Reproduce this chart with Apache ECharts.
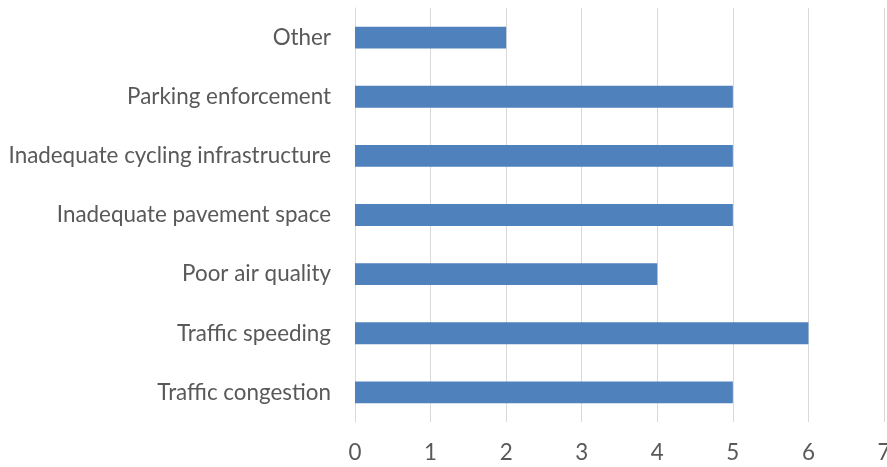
<!DOCTYPE html>
<html><head><meta charset="utf-8">
<script src="https://cdn.jsdelivr.net/npm/echarts@6/dist/echarts.min.js"></script>
<style>html,body{margin:0;padding:0;background:#fff}#c{width:887px;height:467px}</style>
</head><body><div id="c"></div>
<script>
const categories = ["Traffic congestion","Traffic speeding","Poor air quality","Inadequate pavement space","Inadequate cycling infrastructure","Parking enforcement","Other"];
const values = [5,6,4,5,5,5,2];
const xTicks = [0,1,2,3,4,5,6,7];
const chart = echarts.init(document.getElementById('c'));
chart.setOption({
  animation:false,
  grid:{left:355,right:3,top:8,bottom:45,containLabel:false,outerBoundsMode:'none'},
  xAxis:{type:'value',min:0,max:7,interval:1,
    axisLine:{show:false},axisTick:{show:false},
    splitLine:{lineStyle:{color:'#d9d9d9',width:1}},
    axisLabel:{color:'#595959',fontFamily:'Lato',fontSize:22.4,margin:20,hideOverlap:false,
      formatter:v=>xTicks.includes(v)?String(v):''}},
  yAxis:{type:'category',data:categories,
    axisLine:{lineStyle:{color:'#d9d9d9'}},axisTick:{show:false},
    axisLabel:{color:'#595959',fontFamily:'Lato',fontSize:22.4,margin:24}},
  series:[{type:'bar',data:values,barWidth:'37%',itemStyle:{color:'#4f81bd'}}]
});
</script></body></html>
